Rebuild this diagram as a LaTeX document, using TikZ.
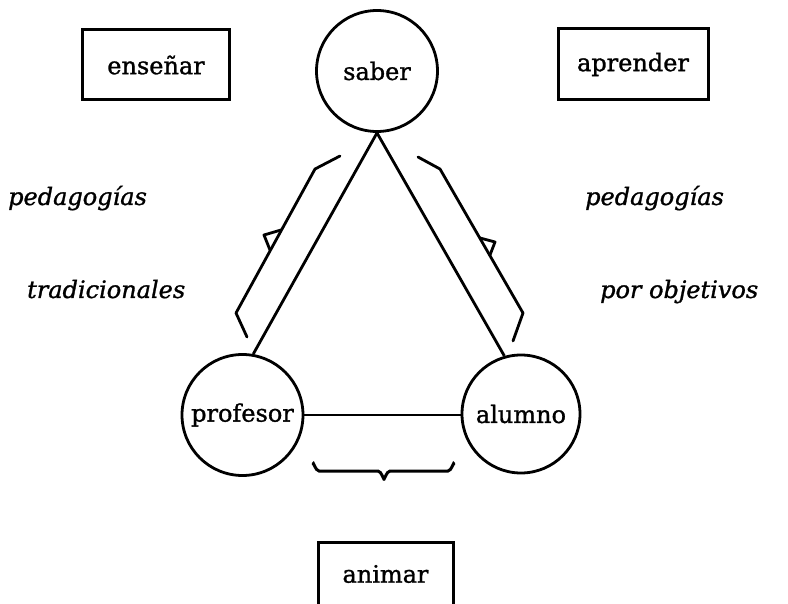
\documentclass[tikz,border=0pt]{standalone}
\usepackage{fontspec}
\setmainfont{DejaVu Serif}
\newfontface\rmheavy{DejaVu Serif}[FakeBold=1.2]
\newfontface\itheavy{DejaVu Serif Italic}[FakeBold=1.2]
\begin{document}
\begin{tikzpicture}[x=1pt,y=-1pt,
  ln/.style={line width=2.8pt},
  circ/.style={circle, draw, line width=2.8pt, inner sep=0pt, font=\rmheavy\fontsize{24}{28}\selectfont},
  box/.style={rectangle, draw, line width=3pt, inner sep=0pt, font=\rmheavy\fontsize{24}{28}\selectfont},
  lab/.style={font=\itheavy\fontsize{24}{28}\selectfont, inner sep=0pt, anchor=base west},
  brk/.style={line width=2.8pt, line join=round, line cap=round},
]
\useasboundingbox (0,0) rectangle (788,604);
\clip (0,0) rectangle (788,604);

% circles
\node[circ, minimum size=121pt] (saber) at (377,71) {saber};
\node[circ, minimum size=121pt] (profesor) at (242.5,415) {profesor};
\node[circ, minimum size=118pt] (alumno) at (521,414) {alumno};

% boxes
\node[box, minimum width=147pt, minimum height=70pt] (ensenar) at (156,65) {enseñar};
\node[box, minimum width=150pt, minimum height=71pt] (aprender) at (633,64.5) {aprender};
\node[box, minimum width=135pt, minimum height=64pt] (animar) at (385.5,574) {animar};

% labels
\node[lab] (pedL) at (8,205) {pedagogías};
\node[lab] (tradL) at (27,298) {tradicionales};
\node[lab] (pedR) at (585,205) {pedagogías};
\node[lab] (porR) at (600,298) {por objetivos};

% triangle
\draw[ln] (saber.south) -- (profesor.80);
\draw[ln] (saber.south) -- (alumno.106);
\draw[ln] (profesor.east) -- (alumno.west |- profesor.east);

% left bracket
\draw[brk] (340,156) -- (315,169) -- (236,313) -- (247,337);
\draw[brk] (281,230) -- (264,235) -- (270,250);
% right bracket
\draw[brk] (418,157) -- (440,169) -- (523,313) -- (513,341);
\draw[brk] (480,238) -- (495,242) -- (490,255);

% bottom brace
\draw[line width=3pt, line cap=round] (313,464) to[out=90,in=180] (319,471) -- (378,471)
  to[out=0,in=-90] (384,478) to[out=-90,in=180] (390,471) -- (448,471) to[out=0,in=90] (454,464);
\end{tikzpicture}
\end{document}
